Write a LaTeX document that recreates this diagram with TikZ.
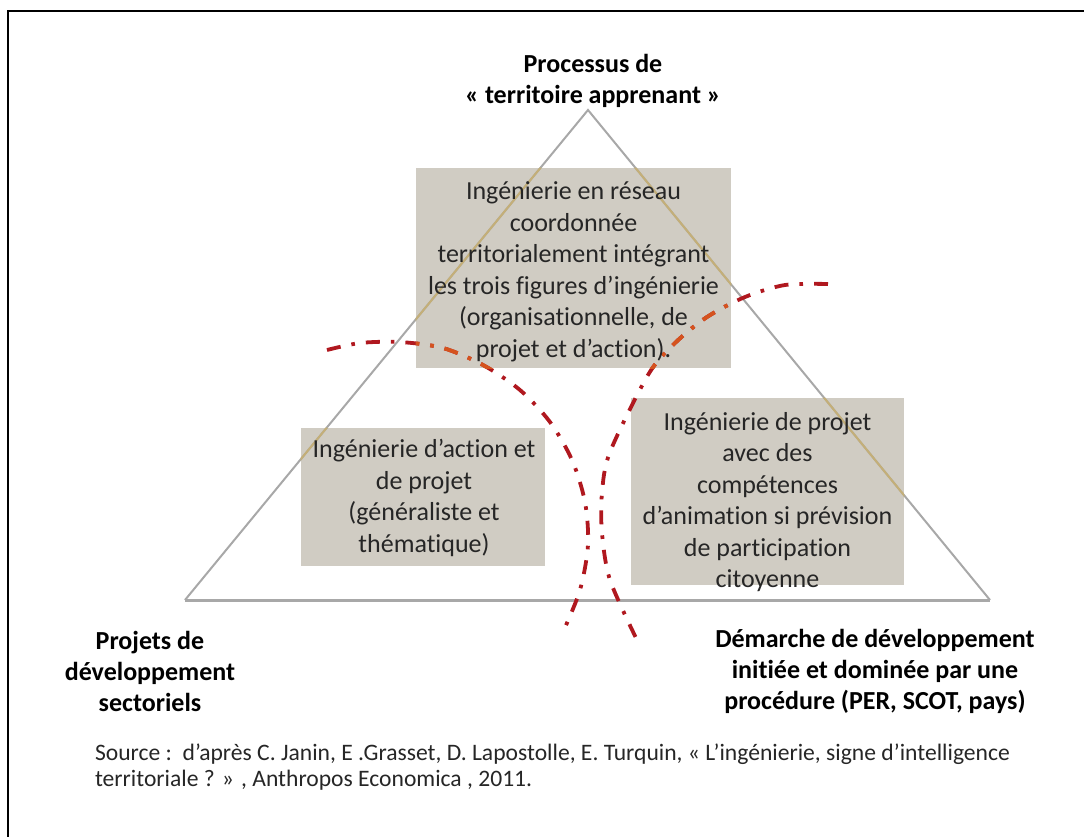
\documentclass[tikz,border=0pt]{standalone}
\usepackage{fontspec}
\setmainfont{Carlito}[Ligatures=NoCommon]

\definecolor{fondboite}{HTML}{D0CCC3}
\definecolor{rouge}{HTML}{B0181F}
\definecolor{rougeboite}{HTML}{D5531E}
\definecolor{trait}{HTML}{A8A8A8}
\definecolor{traitboite}{HTML}{C4AF78}
\definecolor{gristexte}{HTML}{262626}

\tikzset{
  boite/.style={fill=fondboite, inner sep=0pt},
  texte/.style={align=center, text=gristexte, font=\fontsize{13}{15.75}\selectfont},
  titre/.style={align=center, font=\fontsize{13}{15.5}\selectfont\bfseries},
  source/.style={align=left, text=gristexte, font=\fontsize{11.8}{13.2}\selectfont},
  rupture/.style={line width=1.9pt, dash pattern=on 7pt off 5.5pt on 1.8pt off 5.5pt}
}

% the two dash-dot arcs
\newcommand{\arcgauche}{plot[smooth] coordinates {(327,350) (360,343) (400,342) (443,348) (483,365) (520,390) (550,422) (572,460) (585,502) (588,545) (580,590) (563,632)}}
\newcommand{\arcdroit}{plot[smooth] coordinates {(828,284) (785,285) (745,297) (707,317) (675,343) (648,375) (610,452) (602,493) (602,533) (610,580) (637,640)}}

\begin{document}
\begin{tikzpicture}[x=0.5pt, y=-0.5pt]
  \useasboundingbox (0,0) rectangle (1084,837);
  % Frame (left and top edges only)
  \draw[line width=1pt] (8,837) -- (8,11) -- (1084,11);

  % Grey boxes
  \node[boite, minimum width=157.5pt, minimum height=100pt] (reseau) at (573.5,268) {};
  \node[boite, minimum width=122pt, minimum height=69pt] (action) at (423,497) {};
  \node[boite, minimum width=136.5pt, minimum height=93.5pt] (projet) at (767.5,491.5) {};

  % Triangle
  \coordinate (sommet) at (588,110);
  \coordinate (gauche) at (185,600);
  \coordinate (droite) at (990,600);
  \draw[trait, line width=1pt] (gauche) -- (sommet) -- (droite);
  \draw[trait, line width=1.5pt] (gauche) -- (droite);

  % Dash-dot arcs
  \draw[rupture, rouge] \arcgauche;
  \draw[rupture, rouge] \arcdroit;

  % Lines seen through the boxes
  \begin{scope}
    \clip (reseau.south west) rectangle (reseau.north east)
          (action.south west) rectangle (action.north east)
          (projet.south west) rectangle (projet.north east);
    \draw[traitboite, line width=1pt] (gauche) -- (sommet) -- (droite);
  \end{scope}
  \begin{scope}
    \clip (reseau.south west) rectangle (reseau.north east);
    \draw[rupture, rougeboite] \arcgauche;
    \draw[rupture, rougeboite] \arcdroit;
  \end{scope}

  % Box texts
  \node[texte] (reseautxt) at (573.5,272) {Ingénierie en réseau\\coordonnée\\territorialement intégrant\\les trois figures d’ingénierie\\(organisationnelle, de\\projet et d’action).};
  \node[texte] (actiontxt) at (424,498) {Ingénierie d’action et\\de projet\\(généraliste et\\thématique)};
  \node[texte] (projettxt) at (767.5,502) {Ingénierie de projet\\avec des\\compétences\\d’animation si prévision\\de participation\\citoyenne};

  % Corner labels
  \node[titre] (processus) at (593,81) {Processus de\\« territoire apprenant »};
  \node[titre] (sectoriels) at (150,671) {Projets de\\développement\\sectoriels};
  \node[titre] (procedure) at (875,671) {Démarche de développement\\initiée et dominée par une\\procédure (PER, SCOT, pays)};

  % Source
  \node[source, anchor=west] (reference) at (88,767) {Source~:\ \ d’après C. Janin, E .Grasset, D. Lapostolle, E. Turquin, « L’ingénierie, signe d’intelligence\\territoriale ? » , Anthropos Economica , 2011.};
\end{tikzpicture}
\end{document}
